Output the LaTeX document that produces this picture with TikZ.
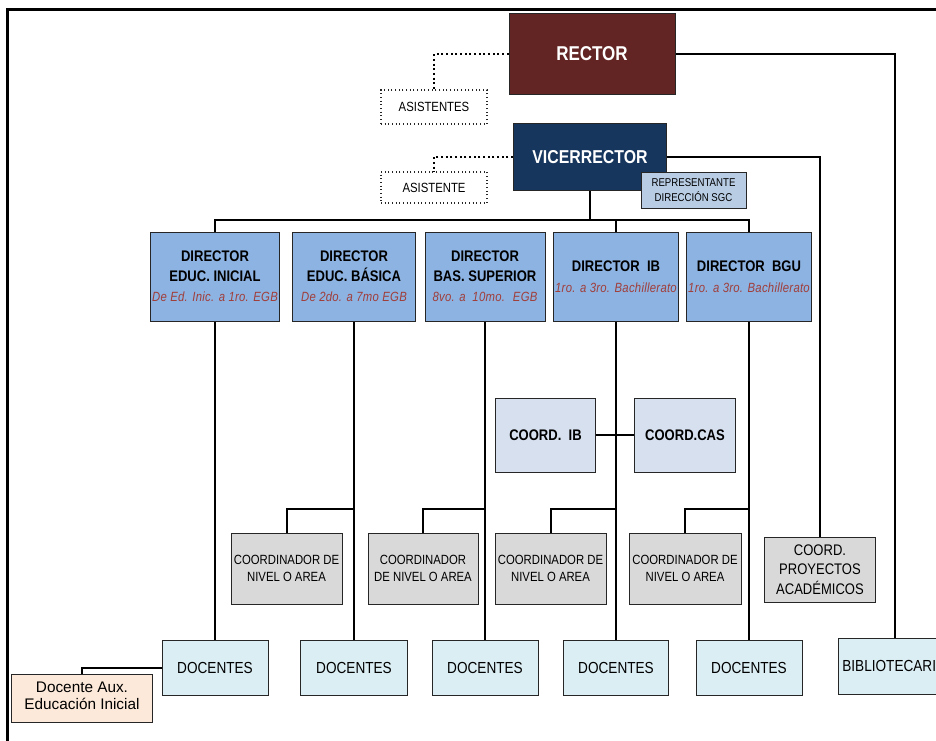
\documentclass[tikz,border=0pt]{standalone}
\usepackage{fontspec}
\setmainfont{Liberation Sans}[FakeStretch=0.85]
\newfontfamily\widefont{Liberation Sans}
\usetikzlibrary{positioning, calc}

\definecolor{rectorred}{RGB}{99,37,35}
\definecolor{vicenavy}{RGB}{23,54,93}
\definecolor{dirblue}{RGB}{141,179,226}
\definecolor{subred}{RGB}{160,62,58}
\definecolor{repblue}{RGB}{184,204,228}
\definecolor{coordblue}{RGB}{214,224,238}
\definecolor{coordgray}{RGB}{217,217,217}
\definecolor{docblue}{RGB}{219,238,244}
\definecolor{auxpeach}{RGB}{253,233,217}

\newcommand{\fsz}[2]{\fontsize{#1}{#2}\selectfont}
\newcommand{\subtxt}[1]{{\fsz{10}{11.5}\mdseries\itshape\addfontfeature{LetterSpace=2}\color{subred}#1}}

\tikzset{
  box/.style={draw=black!85, line width=0.75pt, align=center, inner sep=1pt},
  topbox/.style={box, text=white, font=\bfseries\fsz{15}{18}},
  helpbox/.style={box, dotted, line width=0.9pt, minimum width=79.5pt, font=\fsz{10}{12}},
  dirbox/.style={box, fill=dirblue, minimum height=66.75pt, font=\bfseries\fsz{11.5}{14.5}},
  cibbox/.style={box, fill=coordblue, minimum width=75.5pt, minimum height=55.5pt, font=\bfseries\fsz{11.5}{14}},
  nivbox/.style={box, fill=coordgray, minimum height=53.25pt, font=\fsz{10}{13.25}},
  docbox/.style={box, fill=docblue, minimum height=41.25pt, font=\fsz{12}{14}},
  link/.style={line width=1.5pt},
  helplink/.style={line width=1.5pt, dotted}
}

\begin{document}
\begin{tikzpicture}[x=0.75pt, y=-0.75pt]
    \useasboundingbox (0,0) rectangle (936,740);

    % Frame
    \coordinate (frameBL) at (7,742);
    \coordinate (frameTL) at (7,9);
    \coordinate (frameTR) at (938,9);
    \draw[line width=2.25pt] (frameBL) -- (frameTL) -- (frameTR);

    % Top of the chart
    \node[topbox, fill=rectorred, minimum width=124.5pt, minimum height=60.75pt]
      (rector) at (592,54) {RECTOR};
    \node[topbox, fill=vicenavy, minimum width=114.75pt, minimum height=50.25pt,
      font=\bfseries\fsz{14}{17}] (vice) at (590,157) {VICERRECTOR};
    \node[helpbox, minimum height=25.5pt] (asist1) at (434,107) {ASISTENTES};
    \node[helpbox, minimum height=23.25pt] (asist2) at (434,187.5) {ASISTENTE};
    \node[box, fill=repblue, minimum width=78.75pt, minimum height=27pt,
      font=\fsz{8.5}{11}] (rep) at (693.5,190) {REPRESENTANTE\\DIRECCIÓN SGC};

    % Directors
    \foreach \n/\x/\w/\ttl/\sublab in {
        d1/215/96/{DIRECTOR\\EDUC. INICIAL}/{De Ed. Inic. a 1ro. EGB},
        d2/354/92.25/{DIRECTOR\\EDUC. BÁSICA}/{De 2do. a 7mo EGB},
        d3/485/90/{DIRECTOR\\BAS. SUPERIOR}/{8vo. a \ 10mo. \ EGB},
        d4/616/93.75/{DIRECTOR \ IB}/{1ro. a 3ro. Bachillerato},
        d5/749/91.5/{DIRECTOR \ BGU}/{1ro. a 3ro. Bachillerato}} {
      \node[dirbox, minimum width=\w pt] (\n) at (\x,276.5) {\ttl\\[1pt]\subtxt{\sublab}};
    }

    % IB coordination
    \node[cibbox] (coordib) at (545.5,435) {COORD. \ IB};
    \node[cibbox] (coordcas) at (685,435) {COORD.CAS};

    % Level coordinators
    \foreach \n/\x/\w/\ttl in {
        c1/286.5/83.25/{COORDINADOR DE\\NIVEL O AREA},
        c2/423/82.5/{COORDINADOR\\DE NIVEL O AREA},
        c3/550.5/83.25/{COORDINADOR DE\\NIVEL O AREA},
        c4/685/84/{COORDINADOR DE\\NIVEL O AREA}} {
      \node[nivbox, minimum width=\w pt] (\n) at (\x,568.5) {\ttl};
    }
    \node[nivbox, minimum width=83.25pt, minimum height=48.75pt, font=\fsz{11.5}{14.6}]
      (proy) at (820,569.5) {COORD.\\PROYECTOS\\ACADÉMICOS};

    % Teachers
    \foreach \x/\w [count=\i] in {215/79.5, 354/80.25, 485/79.5, 616/78.75, 749/79.5} {
      \node[docbox, minimum width=\w pt] (doc\i) at (\x,668) {DOCENTES};
    }
    \node[docbox, anchor=west, minimum width=84pt, minimum height=42pt]
      (biblio) at (838,666) {BIBLIOTECARIO};
    \node[box, fill=auxpeach, minimum width=105.75pt, minimum height=36pt,
      text depth=4pt, font=\widefont\fsz{11.5}{12.75}] (aux) at (82,698)
      {Docente Aux.\\Educación Inicial};

    % Connectors
    \coordinate (bus) at (590,220);
    \coordinate (lvl) at (0,509);
    \draw[helplink] (rector.west) -| (asist1.north);
    \draw[helplink] (vice.west) -| (asist2.north);
    \draw[link] (rector.east) -| (biblio.north);
    \draw[link] (vice.east) -| (proy.north);
    \draw[link] (vice.south) -- (bus);
    \draw[link] (d1.north) |- (bus) -| (d5.north);
    \draw[link] (d4.north) -- (d4.north |- bus);
    \foreach \i in {1,...,5} {
      \draw[link] (d\i) -- (doc\i);
    }
    \foreach \c/\d in {c1/d2, c2/d3, c3/d4, c4/d5} {
      \draw[link] (\c.north) |- (\d.south |- lvl);
    }
    \draw[link] (coordib) -- (coordcas);
    \draw[link] (doc1.west) -| (aux.north);
  \end{tikzpicture}
\end{document}
